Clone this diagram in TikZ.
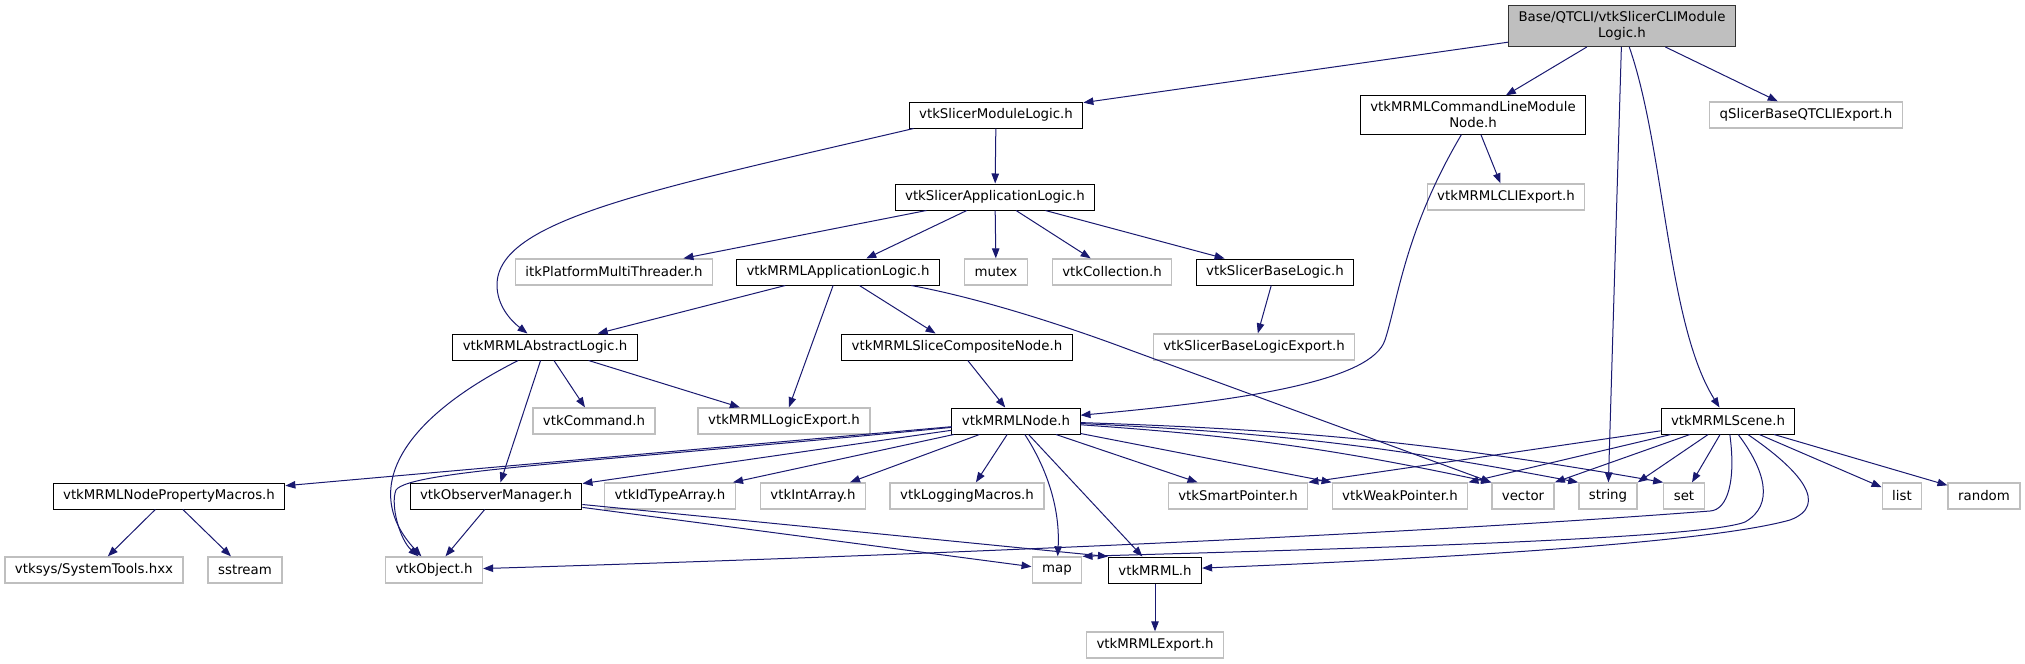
\documentclass[tikz,border=0pt]{standalone}
\usepackage{fontspec}
\setmainfont{DejaVu Sans}
\usetikzlibrary{arrows.meta, calc}

\definecolor{boxgray}{HTML}{BFBFBF}
\definecolor{depblue}{HTML}{191970}

\begin{document}
\begin{tikzpicture}[
  x=0.75pt, y=-0.75pt,
  >={Triangle[length=7.5pt, width=5.6pt]},
  font=\fontsize{10pt}{12pt}\selectfont,
  box/.style={rectangle, inner xsep=7.5pt, inner ysep=4.5pt, minimum height=19.5pt, align=center, fill=white},
  hdr/.style={box, draw=black, line width=0.75pt},
  sys/.style={box, draw=boxgray, line width=1pt},
  cur/.style={box, draw=black!80, fill=boxgray, line width=0.75pt},
  dep/.style={->, draw=depblue, line width=0.75pt},
]
  \useasboundingbox (0,0) rectangle (2025,664);

  \node[cur] (top) at (1622,26) {Base/QTCLI/vtkSlicerCLIModule\\Logic.h};

  \node[hdr] (sml) at (996,115) {vtkSlicerModuleLogic.h};
  \node[hdr] (clmn) at (1473,115) {vtkMRMLCommandLineModule\\Node.h};
  \node[sys] (qex) at (1806,115) {qSlicerBaseQTCLIExport.h};

  \node[hdr] (sal) at (995,197) {vtkSlicerApplicationLogic.h};
  \node[sys] (cliex) at (1506,197) {vtkMRMLCLIExport.h};

  \node[sys] (itk) at (614,272) {itkPlatformMultiThreader.h};
  \node[hdr] (mal) at (838,272) {vtkMRMLApplicationLogic.h};
  \node[sys] (mutex) at (996,272) {mutex};
  \node[sys] (coll) at (1112,272) {vtkCollection.h};
  \node[hdr] (sbl) at (1275,272) {vtkSlicerBaseLogic.h};

  \node[hdr] (mabl) at (545,347) {vtkMRMLAbstractLogic.h};
  \node[hdr] (scn) at (957,347) {vtkMRMLSliceCompositeNode.h};
  \node[sys] (sblex) at (1254,347) {vtkSlicerBaseLogicExport.h};

  \node[sys] (cmd) at (594,421) {vtkCommand.h};
  \node[sys] (lex) at (784,421) {vtkMRMLLogicExport.h};
  \node[hdr] (mn) at (1016,421) {vtkMRMLNode.h};
  \node[hdr] (ms) at (1728,421) {vtkMRMLScene.h};

  \node[hdr] (npm) at (169,496) {vtkMRMLNodePropertyMacros.h};
  \node[hdr] (om) at (496,496) {vtkObserverManager.h};
  \node[sys] (idt) at (670,496) {vtkIdTypeArray.h};
  \node[sys] (intarr) at (813,496) {vtkIntArray.h};
  \node[sys] (logm) at (967,496) {vtkLoggingMacros.h};
  \node[sys] (sp) at (1238,496) {vtkSmartPointer.h};
  \node[sys] (wp) at (1400,496) {vtkWeakPointer.h};
  \node[sys] (stdvec) at (1523,496) {vector};
  \node[sys] (stdstr) at (1608,496) {string};
  \node[sys] (stdset) at (1684,496) {set};
  \node[sys] (stdlist) at (1902,496) {list};
  \node[sys] (random) at (1984,496) {random};

  \node[sys] (systools) at (94,570) {vtksys/SystemTools.hxx};
  \node[sys] (sstream) at (245,570) {sstream};
  \node[sys] (obj) at (434,570) {vtkObject.h};
  \node[sys] (stdmap) at (1057,570) {map};
  \node[hdr] (mrml) at (1155,570) {vtkMRML.h};

  \node[sys] (mex) at (1155,645) {vtkMRMLExport.h};

  % top file
  \foreach \dst in {sml,clmn,stdstr,qex}
    \draw[dep] (top) -- (\dst);
  \draw[dep] (top) .. controls (1665,150) and (1667,324) .. (ms);

  \draw[dep] (clmn) -- (cliex);
  \draw[dep] (clmn) .. controls (1405,230) and (1398,300) .. (1385,340)
    .. controls (1372,380) and (1250,400) .. (mn);

  \draw[dep] (sml) -- (sal);
  \draw[dep] ($(sml.south west)+(5,0)$) .. controls (650,190) and (497,220) .. (497,285)
    .. controls (497,305) and (510,320) .. (mabl);

  \foreach \dst in {itk,mal,mutex,coll,sbl}
    \draw[dep] (sal) -- (\dst);
  \draw[dep] (sbl) -- (sblex);

  \foreach \dst in {mabl,lex,scn}
    \draw[dep] (mal) -- (\dst);
  \draw[dep] (mal) .. controls (990,300) and (1085,333) .. (1130,350) -- (stdvec.north west);

  \draw[dep] (scn) -- (mn);

  \foreach \dst in {om,cmd,lex}
    \draw[dep] (mabl) -- (\dst);
  \draw[dep] (mabl) .. controls (400,420) and (360,490) .. (obj);

  % vtkMRMLNode.h
  \foreach \dst in {npm,om,idt,intarr,logm,sp,mrml}
    \draw[dep] (mn) -- (\dst);
  \draw[dep] (mn) -- (wp.north west);
  \foreach \dst in {stdvec,stdstr,stdset}
    \draw[dep] (mn) to[bend left=4] (\dst.north west);
  \draw[dep] (mn) .. controls (1048,470) and (1060,510) .. (stdmap);
  \draw[dep] (mn) .. controls (600,462) and (410,470) .. (396,490)
    .. controls (390,505) and (400,540) .. (obj);

  % vtkMRMLScene.h
  \foreach \dst in {sp,wp,stdvec,stdstr}
    \draw[dep] (ms) -- (\dst.north east);
  \foreach \dst in {stdset,stdlist,random}
    \draw[dep] (ms) -- (\dst);
  \draw[dep] (ms) .. controls (1736,480) and (1728,510) .. (1710,511)
    .. controls (1400,535) and (900,556) .. (obj);
  \draw[dep] (ms) .. controls (1765,470) and (1775,505) .. (1745,522)
    .. controls (1700,540) and (1300,550) .. (stdmap.north east);
  \draw[dep] (ms) .. controls (1800,470) and (1830,505) .. (1790,520)
    .. controls (1700,545) and (1400,560) .. (mrml);

  \foreach \dst in {obj,stdmap}
    \draw[dep] (om) -- (\dst);
  \draw[dep] (om) -- (mrml.north west);

  \draw[dep] (npm) -- (systools);
  \draw[dep] (npm) -- (sstream);
  \draw[dep] (mrml) -- (mex);
\end{tikzpicture}
\end{document}
